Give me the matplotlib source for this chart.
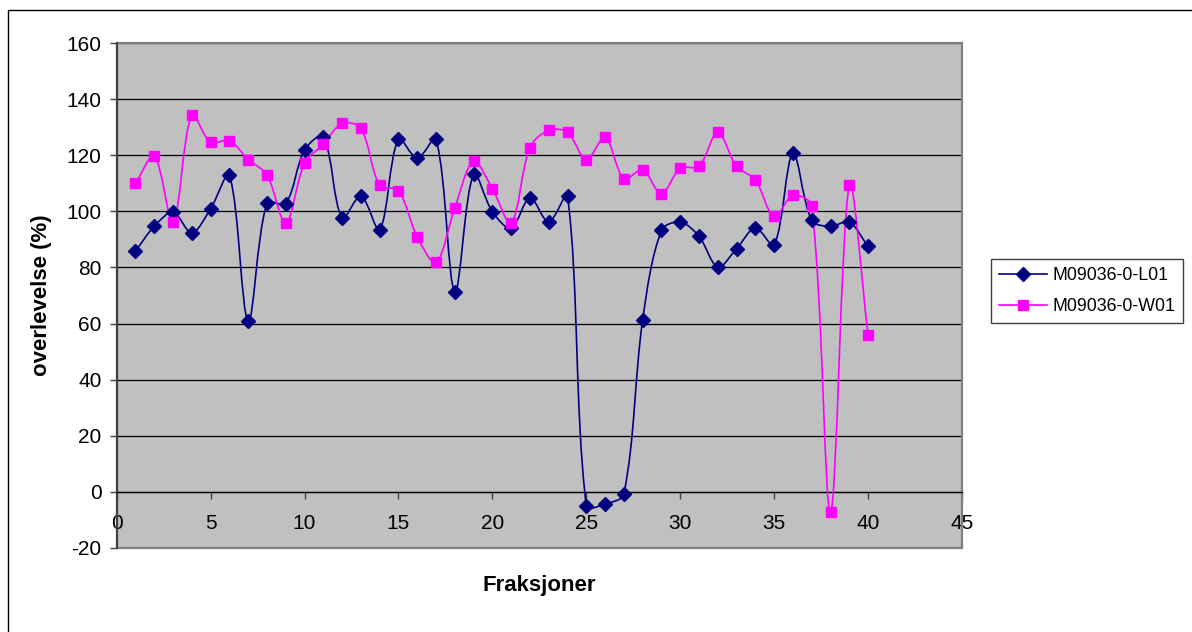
import numpy as np
import matplotlib
matplotlib.use('Agg')
import matplotlib.pyplot as plt
from matplotlib.path import Path
from matplotlib.patches import PathPatch, Rectangle
from matplotlib.lines import Line2D

plt.rcParams['font.family'] = ['Liberation Sans', 'DejaVu Sans']
plt.rcParams['axes.unicode_minus'] = False

# data
fraksjoner = np.arange(1, 41)
l01 = [85.8, 94.7, 99.7, 92.4, 101.0, 112.9, 61.0, 103.0, 102.8, 121.9,
       126.6, 97.7, 105.5, 93.5, 125.8, 119.0, 125.8, 71.4, 113.3, 99.9,
       94.1, 104.8, 96.2, 105.5, -5.1, -4.4, -0.8, 61.3, 93.2, 96.2,
       91.1, 80.2, 86.7, 94.1, 88.0, 120.7, 96.8, 94.7, 96.2, 87.5]
w01 = [110.0, 119.7, 96.3, 134.4, 124.6, 125.3, 118.5, 113.0, 95.9, 117.2,
       124.0, 131.4, 129.6, 109.4, 107.4, 90.9, 81.8, 101.3, 117.9, 108.1,
       95.9, 122.8, 129.0, 128.2, 118.5, 126.4, 111.7, 114.8, 106.3, 115.4,
       116.1, 128.2, 116.1, 111.2, 98.2, 105.7, 101.9, -7.2, 109.4, 55.9]
series_names = ['M09036-0-L01', 'M09036-0-W01']
series_colors = ['#000080', '#FF00FF']
series_markers = ['D', 's']

xticks = np.arange(0, 46, 5)
yticks = np.arange(-20, 161, 20)


def smooth_path(ax, xs, ys, f=1/3.):
    # excel-style smoothed line: bezier segments built in screen space
    pts = ax.transData.transform(np.column_stack([xs, ys]))
    n = len(pts)
    verts = [pts[0]]
    codes = [Path.MOVETO]
    for i in range(n - 1):
        p0 = pts[i - 1] if i > 0 else pts[i]
        p1 = pts[i]
        p2 = pts[i + 1]
        p3 = pts[i + 2] if i + 2 < n else pts[i + 1]
        d01 = np.hypot(*(p1 - p0))
        d12 = np.hypot(*(p2 - p1))
        d23 = np.hypot(*(p3 - p2))
        c1 = p1 + (p2 - p0) * f * d12 / (d01 + d12)
        c2 = p2 - (p3 - p1) * f * d12 / (d12 + d23)
        verts += [c1, c2, p2]
        codes += [Path.CURVE4] * 3
    verts = ax.transData.inverted().transform(np.array(verts))
    return Path(verts, codes)


fig = plt.figure(figsize=(11.92, 6.32), dpi=100)
ax = fig.add_axes([116.7/1192, 1 - 547.7/632, 845.3/1192, 504.4/632])
ax.set_facecolor('#C0C0C0')
ax.set_xlim(0, 45)
ax.set_ylim(-20, 160)
ax.set_xticks(xticks)
ax.set_yticks(yticks)
ax.tick_params(axis='both', labelsize=15, colors='#404040', labelcolor='black')
ax.tick_params(axis='y', direction='out', length=5, width=1, pad=6)
ax.tick_params(axis='x', direction='out', length=5, width=1, pad=11)

for y in yticks:
    ax.axhline(y, color='black', lw=0.9, zorder=1)

ax.spines['bottom'].set_position(('data', 0))
ax.spines['bottom'].set_color('black')
ax.spines['bottom'].set_linewidth(0.9)
ax.spines['top'].set_visible(False)
ax.spines['right'].set_visible(False)
ax.spines['left'].set_color('#404040')
ax.spines['left'].set_linewidth(1.5)
ax.add_patch(Rectangle((0, 0), 1, 1, transform=ax.transAxes, fill=False,
                       edgecolor='#808080', lw=1.6, zorder=2, clip_on=False))

handles = []
for ys, name, col, mk in zip([l01, w01], series_names, series_colors, series_markers):
    ax.add_patch(PathPatch(smooth_path(ax, fraksjoner, ys), fill=False,
                           edgecolor=col, lw=1.2, zorder=3, clip_on=False))
    ms = 7 if mk == 'D' else 7.5
    ax.plot(fraksjoner, ys, ls='none', marker=mk, ms=ms, color=col, mec=col,
            zorder=4, clip_on=False)
    handles.append(Line2D([], [], color=col, lw=1.2, marker=mk, ms=ms))

ax.set_xlabel('Fraksjoner', fontsize=16, fontweight='bold', va='center')
ax.xaxis.set_label_coords(0.5, -0.074)
ax.set_ylabel('overlevelse (%)', fontsize=16, fontweight='bold', va='center')
ax.yaxis.set_label_coords(-0.0884, 0.5)

leg = fig.legend(handles, series_names, loc='center left',
                 bbox_to_anchor=(991/1192, 1 - 291/632), fontsize=12.8,
                 frameon=True, fancybox=False, framealpha=1,
                 edgecolor='#404040', borderpad=0.45, labelspacing=0.8,
                 handlelength=2.7, handletextpad=0.3, borderaxespad=0)
leg.get_frame().set_linewidth(1)

# outer chart border
fig.add_artist(Rectangle((8/1192, -0.05), 1.1, 1 - 10/632 + 0.05,
                         transform=fig.transFigure, fill=False,
                         edgecolor='black', lw=1))

fig.savefig('out.png', dpi=100)
